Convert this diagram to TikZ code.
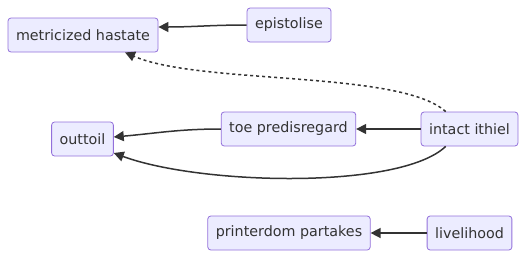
\documentclass[tikz,border=0pt]{standalone}
\usepackage{fontspec}
\setmainfont{DejaVu Sans}
\usetikzlibrary{arrows.meta, positioning}

\definecolor{boxfill}{HTML}{ECECFF}
\definecolor{boxline}{HTML}{9370DB}
\definecolor{linkcol}{HTML}{333333}

\tikzset{
  box/.style={draw=boxline, fill=boxfill, rounded corners=3pt, line width=0.8pt,
    minimum height=34pt, inner xsep=8pt, font=\fontsize{14.3}{16}\selectfont, text=linkcol},
  link/.style={draw=linkcol, line width=1.5pt, -{Triangle[length=10pt,width=10pt]}}
}

\begin{document}
\begin{tikzpicture}[x=1pt, y=-1pt]
				\useasboundingbox (0,0) rectangle (528,258);
				\node [box] (hastate) at (83,35) {metricized hastate};
				\node [box] (epistolise) at (289,25) {epistolise};
				\node [box] (outtoil) at (82.5,139) {outtoil};
				\node [box] (predisregard) at (288.5,129) {toe predisregard};
				\node [box] (ithiel) at (469.5,129) {intact ithiel};
				\node [box] (printerdom) at (289,233) {printerdom partakes};
				\node [box] (livelihood) at (469.5,233) {livelihood};
				
				\draw [link] (epistolise.west) to[out=180, in=0] ([yshift=8pt]hastate.east);
				\draw [link, dash pattern=on 3pt off 3pt] ([xshift=25pt]ithiel.north west)
					.. controls (400,70) and (200,85) .. ([xshift=42pt]hastate.south);
				\draw [link] (ithiel.west) -- (predisregard.east);
				\draw [link] (predisregard.west) to[out=180, in=5] ([yshift=2pt]outtoil.east);
				\draw [link] ([xshift=25pt]ithiel.south west)
					.. controls (400,190) and (200,185) .. ([yshift=-14pt]outtoil.east);
				\draw [link] (livelihood.west) -- (printerdom.east);
			\end{tikzpicture}
\end{document}
